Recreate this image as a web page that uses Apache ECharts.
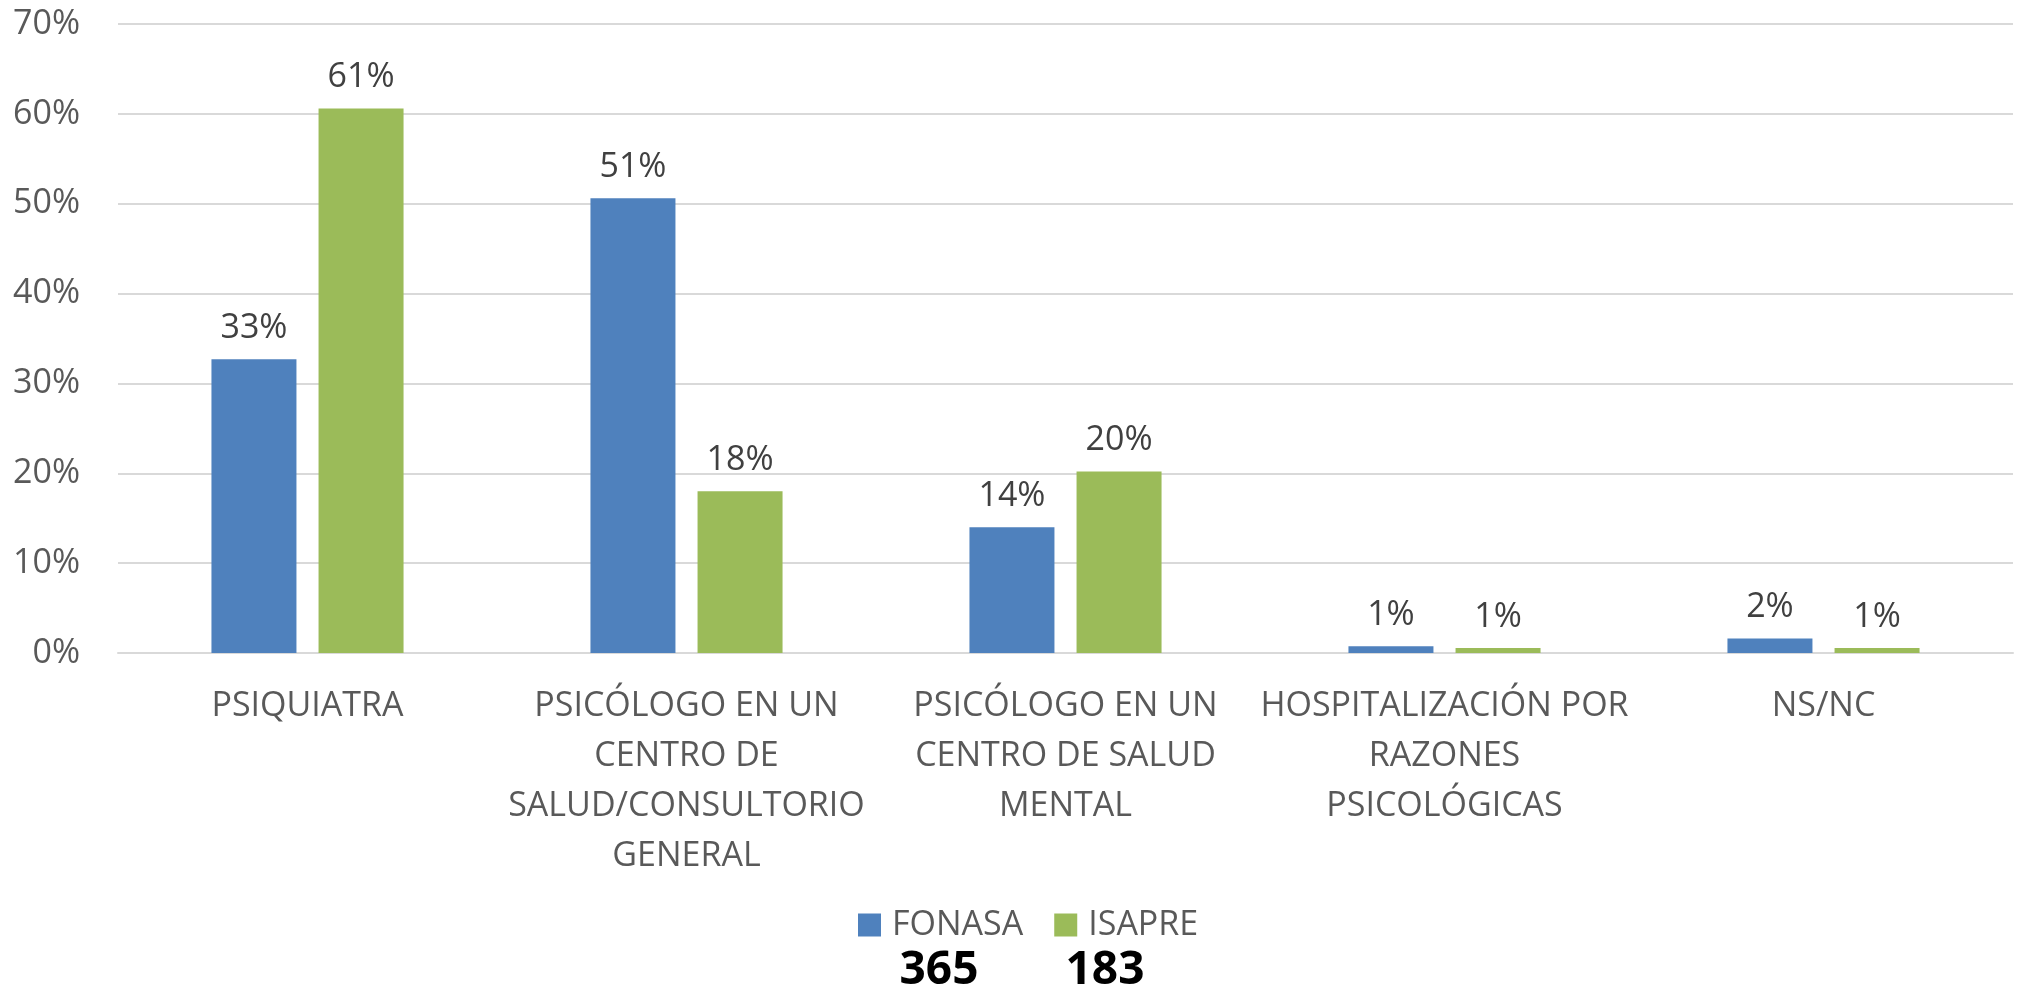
<!DOCTYPE html>
<html>
<head>
<meta charset="utf-8">
<script src="https://cdn.jsdelivr.net/npm/echarts@6/dist/echarts.min.js"></script>
<style>
  html, body { margin: 0; padding: 0; background: #fff; }
  #chart { width: 2017px; height: 993px; }
</style>
</head>
<body>
<div id="chart"></div>
<script>
const categories = [
  "PSIQUIATRA",
  "PSICÓLOGO EN UN\nCENTRO DE\nSALUD/CONSULTORIO\nGENERAL",
  "PSICÓLOGO EN UN\nCENTRO DE SALUD\nMENTAL",
  "HOSPITALIZACIÓN POR\nRAZONES\nPSICOLÓGICAS",
  "NS/NC",
];
const seriesNames = ["FONASA", "ISAPRE"];
const fonasa = [32.7, 50.6, 14.0, 0.75, 1.6];
const isapre = [60.6, 18.0, 20.2, 0.55, 0.55];
const counts = [365, 183];
const yTicks = [0, 10, 20, 30, 40, 50, 60, 70];

const colors = ["#4F81BD", "#9BBB59"];
const font = "'Open Sans', sans-serif";

const chart = echarts.init(document.getElementById("chart"));

const labelStyle = {
  show: true,
  position: "top",
  distance: 14,
  fontFamily: font,
  fontSize: 34,
  color: "#404040",
  formatter: (p) => Math.round(p.value) + "%",
};

chart.setOption({
  animation: false,
  color: colors,
  grid: { left: 118, right: 4, top: 24, bottom: 340 },
  legend: {
    data: seriesNames,
    left: 853,
    top: 903,
    itemWidth: 23,
    itemHeight: 23,
    itemGap: 31,
    icon: "rect",
    textStyle: { fontFamily: font, fontSize: 34, color: "#595959", padding: [0, 0, 0, 6] },
  },
  xAxis: {
    type: "category",
    data: categories,
    axisLine: { lineStyle: { color: "#d9d9d9", width: 2 } },
    axisTick: { show: false },
    axisLabel: {
      interval: 0,
      margin: 28,
      fontFamily: font,
      fontSize: 34,
      lineHeight: 50,
      color: "#595959",
    },
  },
  yAxis: {
    type: "value",
    min: yTicks[0],
    max: yTicks[yTicks.length - 1],
    interval: 10,
    axisLine: { show: false },
    axisTick: { show: false },
    splitLine: { lineStyle: { color: "#d9d9d9", width: 2 } },
    axisLabel: {
      margin: 38,
      fontFamily: font,
      fontSize: 34,
      color: "#595959",
      formatter: "{value}%",
    },
  },
  series: [
    {
      name: seriesNames[0],
      type: "bar",
      data: fonasa,
      barWidth: 85,
      barGap: "26%",
      label: labelStyle,
    },
    {
      name: seriesNames[1],
      type: "bar",
      data: isapre,
      barWidth: 85,
      barGap: "26%",
      label: labelStyle,
    },
  ],
  graphic: [
    {
      type: "text",
      x: 939,
      y: 971,
      style: {
        text: String(counts[0]),
        font: "bold 46px " + font,
        fill: "#000",
        align: "center",
        verticalAlign: "middle",
      },
    },
    {
      type: "text",
      x: 1105,
      y: 971,
      style: {
        text: String(counts[1]),
        font: "bold 46px " + font,
        fill: "#000",
        align: "center",
        verticalAlign: "middle",
      },
    },
  ],
});

window.addEventListener("resize", () => chart.resize());
</script>
</body>
</html>
